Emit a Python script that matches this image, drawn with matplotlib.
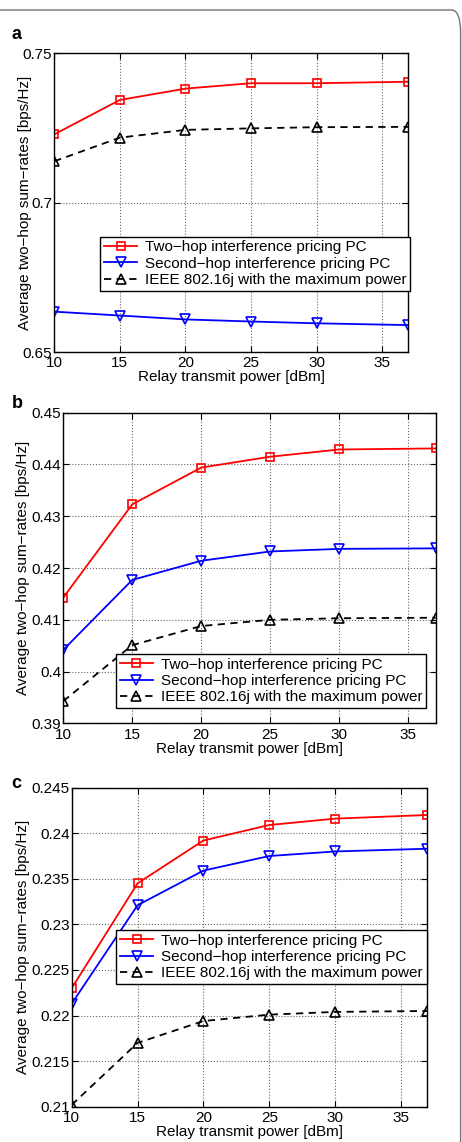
import numpy as np
import matplotlib
matplotlib.use("Agg")
import matplotlib.pyplot as plt
from matplotlib.patches import FancyBboxPatch

plt.rcParams['font.family'] = ['Liberation Sans', 'DejaVu Sans']
plt.rcParams['font.size'] = 11

# datos
potencia = [10, 15, 20, 25, 30, 37]
xticks = [10, 15, 20, 25, 30, 35]

etiquetas = ["Two\u2212hop interference pricing PC",
             "Second\u2212hop interference pricing PC",
             "IEEE 802.16j with the maximum power"]

# panel a
a_two_hop = [0.7229, 0.7344, 0.7382, 0.7400, 0.7400, 0.7405]
a_second_hop = [0.6636, 0.6623, 0.6610, 0.6603, 0.6597, 0.6591]
a_ieee = [0.7139, 0.7218, 0.7244, 0.7249, 0.7253, 0.7254]
a_yticks = [0.65, 0.7, 0.75]
a_yticklabels = ["0.65", "0.7", "0.75"]

# panel b
b_two_hop = [0.4143, 0.4323, 0.4394, 0.4415, 0.4429, 0.4431]
b_second_hop = [0.4042, 0.4177, 0.4214, 0.4232, 0.4237, 0.4238]
b_ieee = [0.3943, 0.4051, 0.4088, 0.4100, 0.4103, 0.4104]
b_yticks = [0.39, 0.40, 0.41, 0.42, 0.43, 0.44, 0.45]
b_yticklabels = ["0.39", "0.4", "0.41", "0.42", "0.43", "0.44", "0.45"]

# panel c
c_two_hop = [0.2230, 0.2345, 0.2392, 0.2409, 0.2416, 0.2420]
c_second_hop = [0.2213, 0.2321, 0.2359, 0.2375, 0.2380, 0.2383]
c_ieee = [0.2102, 0.2170, 0.2194, 0.2201, 0.2204, 0.2205]
c_yticks = [0.21, 0.215, 0.22, 0.225, 0.23, 0.235, 0.24, 0.245]
c_yticklabels = ["0.21", "0.215", "0.22", "0.225", "0.23", "0.235", "0.24", "0.245"]

fig = plt.figure(figsize=(4.62, 11.42), dpi=100)

# marco gris redondeado
marco = FancyBboxPatch((-0.05, -0.05), 1.047, 1.05 - 10 / 1142,
                       boxstyle="round,pad=0,rounding_size=0.02",
                       transform=fig.transFigure, fc='none', ec='0.45', lw=1.0)
fig.patches.append(marco)

paneles = [
    # pos, datos, yticks, ylim, legend anchor, ylabel x, letra
    ([0.1175, 0.6915, 0.7663, 0.2618], (a_two_hop, a_second_hop, a_ieee),
     a_yticks, a_yticklabels, (0.65, 0.75), (0.129, 0.387), -0.063, 'a', 0.9695),
    ([0.137, 0.3666, 0.806, 0.272], (b_two_hop, b_second_hop, b_ieee),
     b_yticks, b_yticklabels, (0.39, 0.45), (0.1407, 0.224), -0.089, 'b', 0.6471),
    ([0.1552, 0.0309, 0.7697, 0.2794], (c_two_hop, c_second_hop, c_ieee),
     c_yticks, c_yticklabels, (0.21, 0.245), (0.1246, 0.554), -0.117, 'c', 0.3138),
]

for pos, (rojo, azul, negro), yt, ytl, ylim, anc, ylx, letra, ly in paneles:
    ax = fig.add_axes(pos)
    ax.plot(potencia, rojo, color='red', marker='s', ms=6, mfc='none', mew=1.2,
            lw=1.3, label=etiquetas[0])
    ax.plot(potencia, azul, color='blue', marker='v', ms=7, mfc='none', mew=1.2,
            lw=1.3, label=etiquetas[1])
    ax.plot(potencia, negro, color='black', marker='^', ms=7, mfc='none', mew=1.2,
            lw=1.3, ls=(0, (4, 3)), label=etiquetas[2])

    ax.set_xlim(10, 37)
    ax.set_ylim(*ylim)
    ax.set_xticks(xticks)
    ax.set_yticks(yt)
    ax.set_yticklabels(ytl)
    ax.tick_params(direction='in', top=True, right=True, length=4, width=0.8,
                   labelsize=11)
    ax.tick_params(axis='x', pad=3)
    ax.tick_params(axis='y', pad=1.5)
    ax.grid(True, ls=':', color='0.4', lw=0.8)
    for s in ax.spines.values():
        s.set_linewidth(1.0)

    ax.set_xlabel("Relay transmit power [dBm]", fontsize=11, labelpad=0)
    ax.set_ylabel("Average two\u2212hop sum\u2212rates [bps/Hz]", fontsize=11)
    ax.yaxis.set_label_coords(ylx, 0.5)

    leg = ax.legend(loc='upper left', bbox_to_anchor=anc, borderaxespad=0,
                    fontsize=11, fancybox=False, framealpha=1, edgecolor='black',
                    handlelength=2.2, handletextpad=0.5, labelspacing=0.15,
                    borderpad=0.25)
    leg.get_frame().set_linewidth(1.0)

    fig.text(0.025, ly, letra, fontsize=13, fontweight='bold', va='center')

fig.savefig("out.png", dpi=100)
